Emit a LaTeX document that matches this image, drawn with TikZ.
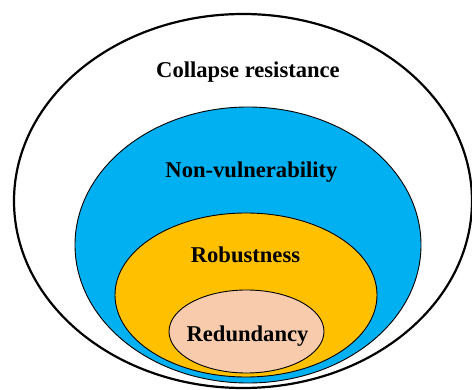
\documentclass[tikz,border=0pt]{standalone}
\usepackage{fontspec}
\setmainfont{Liberation Serif}
\usetikzlibrary{shapes.geometric}
\definecolor{skyblue}{HTML}{00B0F0}
\definecolor{amber}{HTML}{FFC000}
\definecolor{peach}{HTML}{F8CBAD}
\tikzset{
  ring/.style={ellipse, draw=black, inner sep=0pt},
  lbl/.style={font=\bfseries\fontsize{22.6}{25}\selectfont, inner sep=0pt}
}
\begin{document}
\begin{tikzpicture}[x=1pt,y=-1pt]
\useasboundingbox (0,0) rectangle (472,390);
\fill[white] (0,0) rectangle (472,390);
\node[ring, line width=2.2pt, fill=white, minimum width=458pt, minimum height=374pt] (outer) at (243,201) {};
\node[ring, line width=0.9pt, fill=skyblue, minimum width=346pt, minimum height=276pt] (blue) at (248,245) {};
\node[ring, line width=0.9pt, fill=amber, minimum width=262pt, minimum height=164pt] (orange) at (246,295) {};
\node[ring, line width=0.9pt, fill=peach, minimum width=155pt, minimum height=83pt] (pink) at (246.5,331.5) {};
\node[lbl] (t1) at (248,72) {Collapse resistance};
\node[lbl] (t2) at (251.5,172) {Non-vulnerability};
\node[lbl] (t3) at (245.5,255) {Robustness};
\node[lbl] (t4) at (247.5,336) {Redundancy};
\end{tikzpicture}
\end{document}
